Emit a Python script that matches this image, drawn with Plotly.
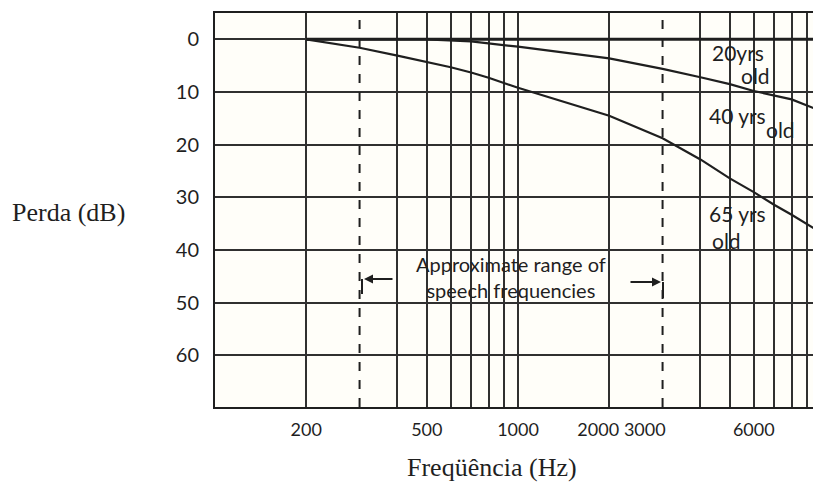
import numpy as np
import plotly.graph_objects as go

# ---------------- data ----------------
freq_20 = [200, 500, 1000, 2000, 3000, 4000, 6000, 8000, 10000]
loss_20 = [0, 0, 0, 0, 0, 0, 0, 0, 0]

freq_40 = [200, 500, 700, 1000, 2000, 3000, 4000, 5000, 6000, 8000, 10000]
loss_40 = [0, 0, 0.4, 1.4, 3.6, 5.6, 7.2, 8.5, 9.8, 11.4, 13.6]

freq_65 = [200, 300, 400, 500, 600, 700, 800, 1000, 2000, 3000, 4000, 5000, 6000, 7000, 8000, 10000]
loss_65 = [0, 1.6, 3.1, 4.3, 5.3, 6.3, 7.3, 9.2, 14.5, 18.8, 22.8, 26.4, 29.0, 31.4, 33.3, 36.7]

grid_freqs = [200, 400, 500, 600, 700, 800, 900, 1000, 2000, 4000, 5000, 6000, 7000, 8000, 9000]
speech_range = [300, 3000]

x_tick_text = ["200", "500", "1000", "2000", "3000", "6000"]
x_tick_pos = [200, 500, 1000, 1840, 2620, 6000]
y_ticks = [0, 10, 20, 30, 40, 50, 60]

INK = "#1f1f1f"
GRID = "#303030"
SANS = "Lato, 'Open Sans', sans-serif"
SERIF = "'Liberation Serif', 'Times New Roman', serif"

# page offset of the figure (browser body margin)
OFF = 8
FIG_W, FIG_H = 821 - OFF, 482 - OFF
# plot-area geometry in page pixels (for paper-coordinate placement of labels)
L, T, W, H = 215, 13, 606, 394


def px(xpix):
    return (xpix - L) / W


def py(ypix):
    return (T + H - ypix) / H


fig = go.Figure()
for fx, fy, lw, name in [(freq_20, loss_20, 3, "20 yrs"),
                         (freq_40, loss_40, 2.2, "40 yrs"),
                         (freq_65, loss_65, 2.2, "65 yrs")]:
    fig.add_trace(go.Scatter(x=fx, y=fy, mode="lines", name=name,
                             line=dict(color=INK, width=lw), showlegend=False,
                             hoverinfo="skip"))

shapes = []
# white patches behind text (interrupt grid like the original)
for (x0, x1, y0, y1) in [(370, 655, 252, 300), (708, 792, 42, 90),
                         (708, 792, 95, 143), (706, 792, 199, 248)]:
    shapes.append(dict(type="rect", xref="paper", yref="paper",
                       x0=px(x0), x1=px(x1), y0=py(y1), y1=py(y0),
                       fillcolor="#fffef9", line=dict(width=0), layer="between"))
# dashed speech-range lines
for f in speech_range:
    shapes.append(dict(type="line", xref="x", yref="paper", x0=f, x1=f, y0=0, y1=1,
                       line=dict(color=INK, width=2, dash="dash"), layer="above"))
# bracket ticks
shapes.append(dict(type="line", xref="paper", yref="paper", x0=px(362), x1=px(362),
                   y0=py(279), y1=py(294), line=dict(color=INK, width=2)))
shapes.append(dict(type="line", xref="paper", yref="paper", x0=px(663), x1=px(663),
                   y0=py(282), y1=py(298), line=dict(color=INK, width=2)))

annotations = []


def txt(text, xpix, ypix, size=21, xanchor="center", font=SANS):
    annotations.append(dict(text=text, xref="paper", yref="paper", x=px(xpix), y=py(ypix),
                            xanchor=xanchor, yanchor="middle", showarrow=False,
                            font=dict(family=font, size=size, color=INK)))


txt("Approximate range of<br>speech frequencies", 511, 277, 20)
txt("20yrs", 738, 52, 21)
txt("old", 755, 75, 21)
txt("40 yrs", 737, 115, 21)
txt("old", 780, 129, 21)
txt("65 yrs", 737, 213, 21)
txt("old", 726, 240, 21)
txt("Perda (dB)", 10, 212, 26, xanchor="left", font=SERIF)
txt("Freqüência (Hz)", 405, 467, 26, xanchor="left", font=SERIF)

# arrows of the speech-range note
annotations.append(dict(text="", xref="paper", yref="paper", x=px(364), y=py(279),
                        ax=30, ay=0, showarrow=True, arrowhead=2, arrowsize=1,
                        arrowwidth=1.8, arrowcolor=INK))
annotations.append(dict(text="", xref="paper", yref="paper", x=px(661), y=py(282),
                        ax=-32, ay=0, showarrow=True, arrowhead=2, arrowsize=1,
                        arrowwidth=1.8, arrowcolor=INK))

fig.update_layout(
    width=FIG_W, height=FIG_H,
    margin=dict(l=L - OFF, r=0, t=T - OFF, b=FIG_H - (T - OFF) - H, autoexpand=False),
    paper_bgcolor="white", plot_bgcolor="#fffef9",
    shapes=shapes, annotations=annotations,
    xaxis=dict(type="log", range=[2, 4], tickmode="array",
               tickvals=x_tick_pos, ticktext=x_tick_text, ticks="",
               ticklabelstandoff=5, tickangle=0, automargin=False,
               showgrid=False, zeroline=False,
               showline=True, mirror=True, linecolor=INK, linewidth=2,
               tickfont=dict(family=SANS, size=18, color=INK),
               minor=dict(tickmode="array", tickvals=grid_freqs, showgrid=True,
                          gridcolor=GRID, gridwidth=1.6, ticks="")),
    yaxis=dict(range=[69.8, -5.0], tickmode="array", tickvals=y_ticks,
               ticks="", ticklabelstandoff=10, automargin=False,
               showgrid=True, gridcolor=GRID, gridwidth=1.6, zeroline=False,
               showline=True, mirror=False, linecolor=INK, linewidth=2,
               tickfont=dict(family=SANS, size=20, color=INK)),
)

fig.write_html("out.html")
